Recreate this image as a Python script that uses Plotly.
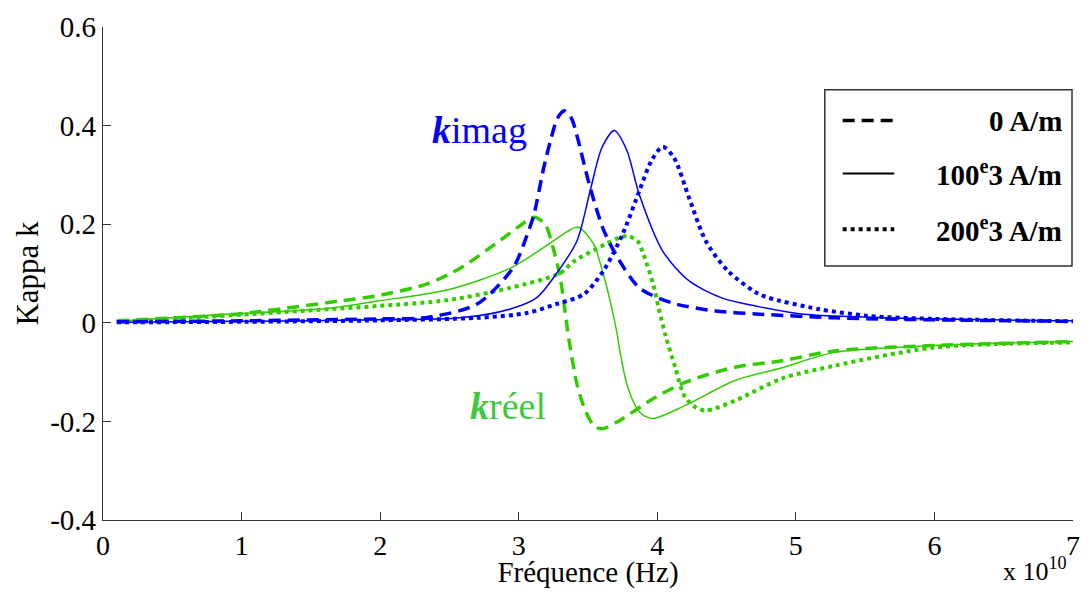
import plotly.graph_objects as go

# ---- data (frequency in units of 1e10 Hz) ----
imag0_x = [0.1, 1.0, 2.0, 2.34, 2.70, 2.96, 3.05, 3.11, 3.18, 3.23, 3.28, 3.33, 3.38, 3.42, 3.51, 3.61, 3.70, 3.87, 4.11, 4.42, 4.71, 5.28, 6.0, 7.0]
imag0_y = [0.002, 0.004, 0.008, 0.011, 0.038, 0.112, 0.17, 0.22, 0.314, 0.37, 0.415, 0.43, 0.415, 0.38, 0.28, 0.19, 0.139, 0.071, 0.04, 0.024, 0.018, 0.01, 0.006, 0.003]

imag100_x = [0.1, 1.0, 2.0, 2.58, 2.94, 3.13, 3.27, 3.42, 3.52, 3.60, 3.69, 3.78, 3.87, 4.04, 4.23, 4.47, 4.71, 5.04, 6.0, 7.0]
imag100_y = [0.001, 0.003, 0.006, 0.01, 0.028, 0.051, 0.099, 0.166, 0.273, 0.355, 0.39, 0.35, 0.26, 0.145, 0.085, 0.05, 0.034, 0.018, 0.008, 0.004]

imag200_x = [0.1, 1.0, 2.0, 2.70, 3.06, 3.27, 3.47, 3.61, 3.75, 3.87, 3.96, 4.04, 4.12, 4.23, 4.35, 4.51, 4.71, 4.80, 5.16, 5.52, 6.0, 7.0]
imag200_y = [0.001, 0.002, 0.005, 0.01, 0.02, 0.038, 0.058, 0.105, 0.18, 0.267, 0.33, 0.357, 0.335, 0.253, 0.166, 0.105, 0.062, 0.051, 0.028, 0.014, 0.008, 0.003]

real0_x = [0.1, 0.98, 1.17, 1.70, 1.98, 2.34, 2.58, 2.89, 3.0, 3.11, 3.19, 3.25, 3.30, 3.36, 3.42, 3.47, 3.54, 3.60, 3.73, 3.97, 4.20, 4.56, 4.90, 5.28, 6.0, 7.0]
real0_y = [0.004, 0.018, 0.024, 0.044, 0.055, 0.079, 0.111, 0.172, 0.195, 0.214, 0.2, 0.15, 0.091, -0.03, -0.124, -0.17, -0.208, -0.215, -0.198, -0.154, -0.121, -0.09, -0.077, -0.057, -0.046, -0.038]

real100_x = [0.1, 0.69, 1.65, 1.98, 2.49, 2.94, 3.25, 3.35, 3.43, 3.54, 3.61, 3.66, 3.71, 3.73, 3.78, 3.85, 3.90, 3.97, 4.20, 4.56, 4.90, 5.28, 6.0, 7.0]
real100_y = [0.003, 0.014, 0.03, 0.044, 0.067, 0.111, 0.166, 0.185, 0.194, 0.16, 0.099, 0.044, -0.022, -0.057, -0.124, -0.172, -0.188, -0.194, -0.168, -0.117, -0.091, -0.06, -0.046, -0.038]

real200_x = [0.1, 0.69, 1.65, 1.98, 2.49, 2.94, 3.30, 3.40, 3.63, 3.72, 3.79, 3.86, 3.90, 3.97, 4.01, 4.06, 4.13, 4.20, 4.28, 4.35, 4.56, 4.90, 5.28, 6.0, 7.0]
real200_y = [0.002, 0.011, 0.028, 0.034, 0.046, 0.071, 0.101, 0.125, 0.16, 0.172, 0.176, 0.165, 0.139, 0.079, 0.03, -0.026, -0.091, -0.151, -0.172, -0.178, -0.158, -0.113, -0.087, -0.05, -0.04]

x_ticks = [0, 1, 2, 3, 4, 5, 6, 7]
y_ticks = [-0.4, -0.2, 0, 0.2, 0.4, 0.6]
y_tick_text = ["-0.4", "-0.2", "0", "0.2", "0.4", "0.6"]
legend_labels = ["0 A/m", "100<sup>e</sup>3 A/m", "200<sup>e</sup>3 A/m"]

BLUE = "#0000ff"
GREEN = "#33cc00"
FONT = "Liberation Serif"
DASH = "12px,7px"
DOT = "4px,4px"

# page body keeps its default 8px margin: size the figure to fit the window exactly
OFF = 8
W, H = 1091 - 2 * OFF, 597 - 2 * OFF
L, R, T, B = 103 - OFF, 1080 - OFF, 25 - OFF, 520 - OFF

fig = go.Figure()
series = [
    (real0_x, real0_y, GREEN, DASH, 3.5),
    (real100_x, real100_y, GREEN, "solid", 1.5),
    (real200_x, real200_y, GREEN, DOT, 4),
    (imag0_x, imag0_y, BLUE, DASH, 3.5),
    (imag100_x, imag100_y, BLUE, "solid", 1.5),
    (imag200_x, imag200_y, BLUE, DOT, 4),
]
for xs, ys, c, d, w in series:
    fig.add_trace(go.Scatter(x=xs, y=ys, mode="lines", showlegend=False,
                             line=dict(color=c, dash=d, width=w, shape="spline", smoothing=0.8)))

def px(xp):
    return (xp - OFF - L) / (R - L)
def py(yp):
    return (B - (yp - OFF)) / (B - T)

shapes = [dict(type="rect", xref="paper", yref="paper", x0=px(830), x1=px(1079), y0=py(265), y1=py(88),
               line=dict(color="#333333", width=1.5), fillcolor="white", layer="above")]
rows = [119, 172, 228]
styles = [("12px,7px", 3.5), ("solid", 2), ("4px,4px", 4)]
for yr, (d, w) in zip(rows, styles):
    shapes.append(dict(type="line", xref="paper", yref="paper", x0=px(848), x1=px(900), y0=py(yr), y1=py(yr),
                       line=dict(color="black", dash=d, width=w), layer="above"))
annotations = []
for yr, lab in zip(rows, legend_labels):
    annotations.append(dict(xref="paper", yref="paper", x=px(1071), y=py(yr), text="<b>" + lab + "</b>",
                            showarrow=False, xanchor="right", yanchor="middle",
                            font=dict(family=FONT, size=29, color="black")))

annotations += [
    dict(x=2.72, y=0.392, text="<b><i>k</i></b>imag", showarrow=False,
         font=dict(family=FONT, size=38, color=BLUE)),
    dict(x=2.92, y=-0.168, text="<b><i>k</i></b>réel", showarrow=False,
         font=dict(family=FONT, size=38, color="#3dc83d")),
    dict(xref="paper", yref="paper", x=px(1076), y=py(588), text="x 10<sup>10</sup>", showarrow=False,
         xanchor="right", yanchor="bottom",
         font=dict(family=FONT, size=26, color="black")),
]

fig.update_layout(
    width=W, height=H,
    margin=dict(l=L, r=W - R, t=T, b=H - B),
    plot_bgcolor="white", paper_bgcolor="white",
    shapes=shapes, annotations=annotations,
    font=dict(family=FONT, size=28, color="black"),
    xaxis=dict(range=[0, 7], tickvals=x_ticks, ticks="inside", ticklen=8, tickcolor="#333",
               showline=True, linecolor="#333", linewidth=1.2, showgrid=False, zeroline=False,
               tickfont=dict(family=FONT, size=28), ticklabeloverflow="allow",
               title=dict(text="Fréquence (Hz)", font=dict(family=FONT, size=29), standoff=5)),
    yaxis=dict(range=[-0.4, 0.6], tickvals=y_ticks, ticktext=y_tick_text, ticks="inside", ticklen=8,
               tickcolor="#333", showline=True, linecolor="#333", linewidth=1.2, showgrid=False,
               zeroline=False, tickfont=dict(family=FONT, size=29),
               title=dict(text="Kappa k", font=dict(family=FONT, size=31), standoff=2)),
)

fig.write_html("out.html", config={"displayModeBar": False})
